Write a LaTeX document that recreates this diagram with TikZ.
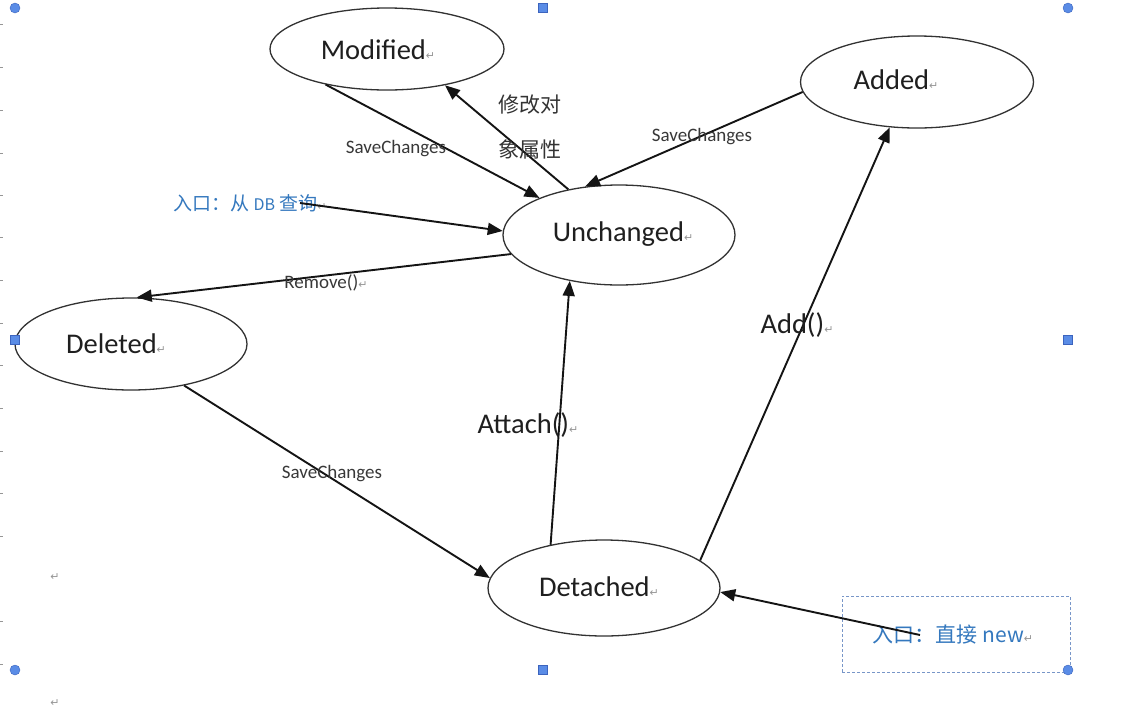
\documentclass[tikz,border=0pt]{standalone}
\usepackage{fontspec}
\setmainfont{Carlito}
\newfontfamily\cjk{Noto Sans CJK SC}
\newfontfamily\dejavu{DejaVu Sans}
\usetikzlibrary{arrows.meta,shapes.geometric,calc}
\definecolor{retgray}{RGB}{150,150,150}
\definecolor{ellgray}{RGB}{50,50,50}
\definecolor{txtblue}{RGB}{52,120,190}
\definecolor{handlefill}{RGB}{90,140,230}
\definecolor{handleedge}{RGB}{60,100,190}
\definecolor{boxblue}{RGB}{120,150,200}
\newcommand{\retmk}{{\dejavu\fontsize{11}{11}\selectfont\textcolor{retgray}{↵}}}
\begin{document}
\begin{tikzpicture}[x=1pt,y=-1pt,
  state/.style={ellipse, draw=ellgray, line width=1.3pt, inner sep=0pt},
  statetext/.style={font=\fontsize{28.5}{30}\selectfont, text=black!88, inner sep=0pt},
  smalllab/.style={font=\fontsize{19}{21}\selectfont, text=black!78, inner sep=0pt},
  biglab/.style={font=\fontsize{28.5}{30}\selectfont, text=black!88, inner sep=0pt},
  cjklab/.style={font=\cjk\fontsize{21}{23}\selectfont, text=black!80, inner sep=0pt},
  bluelab/.style={font=\cjk\fontsize{19}{21}\selectfont, text=txtblue, inner sep=0pt},
  conn/.style={line width=1.9pt, draw=black!92, -{Triangle[length=15pt,width=12pt]}},
  hsq/.style={rectangle, fill=handlefill, draw=handleedge, line width=0.4pt, minimum size=9pt, inner sep=0pt},
  hci/.style={circle, fill=handlefill, draw=handleedge, line width=0.4pt, minimum size=10pt, inner sep=0pt}]
\useasboundingbox (0,0) rectangle (1124,710);
\fill[white] (0,0) rectangle (1124,710);

% left margin ticks
\foreach \yy in {24,67,110,153,195,237,280,323,365,408,451,493,536,621,664}
  \draw[retgray, line width=1pt] (0,\yy) -- (2.5,\yy);
\node[inner sep=0pt] (ret1) at (55,577) {\retmk};
\node[inner sep=0pt] (ret2) at (55,703) {\retmk};

% states
\node[state, minimum width=234pt, minimum height=82pt] (mod) at (387,49) {};
\node[state, minimum width=233pt, minimum height=92pt] (add) at (917,82) {};
\node[state, minimum width=232pt, minimum height=100pt] (unc) at (619,235) {};
\node[state, minimum width=232pt, minimum height=92pt] (del) at (131,344) {};
\node[state, minimum width=232pt, minimum height=96pt] (det) at (604,588) {};

\node[statetext] (tmod) at (378,50) {Modified\retmk};
\node[statetext] (tadd) at (896,80) {Added\retmk};
\node[statetext] (tunc) at (623,234) {Unchanged\retmk};
\node[statetext] (tdel) at (116,344) {Deleted\retmk};
\node[statetext] (tdet) at (599,587) {Detached\retmk};

% entry text box
\node[draw=boxblue, dash pattern=on 3pt off 2pt, line width=0.8pt, minimum width=228pt, minimum height=76pt, inner sep=0pt] (newbox) at (956,634) {};
\node[bluelab, font=\cjk\fontsize{21}{23}\selectfont] (newlab) at (953,635) {入口：直接 new\retmk};
\coordinate (newstart) at (920,635);

\node[bluelab] (dblab) at (250,203) {入口：从 {\fontsize{16}{18}\selectfont DB} 查询\retmk};
\coordinate (dbstart) at (300,203);

% connectors
\draw[conn] (mod.210) -- (unc.155);
\draw[conn] (unc.138) -- (mod.328);
\draw[conn] (add.185) -- (unc.125);
\draw[conn] (dbstart) -- (unc.178);
\draw[conn] (unc.190) -- (del.83);
\draw[conn] (del.322) -- (det.175);
\draw[conn] (det.141) -- (unc.223);
\draw[conn] (det.16) -- (add.239);
\draw[conn] (newstart) -- (det.358);

% labels
\node[smalllab] (l1) at (396,149) {SaveChanges};
\node[smalllab] (l2) at (702,137) {SaveChanges};
\node[smalllab] (l3) at (326,283) {Remove()\retmk};
\node[smalllab] (l4) at (332,474) {SaveChanges};
\node[biglab] (l5) at (528,425) {Attach()\retmk};
\node[biglab] (l6) at (797,325) {Add()\retmk};
\node[cjklab] (l7) at (530,105) {修改对};
\node[cjklab] (l8) at (530,149) {象属性};

% selection handles
\node[hci] (c1) at (15,8) {};
\node[hsq] (s1) at (543,8) {};
\node[hci] (c2) at (1068,8) {};
\node[hsq] (s2) at (15,340) {};
\node[hsq] (s3) at (1068,340) {};
\node[hci] (c3) at (15,670) {};
\node[hsq] (s4) at (543,670) {};
\node[hci] (c4) at (1068,670) {};
\end{tikzpicture}
\end{document}
